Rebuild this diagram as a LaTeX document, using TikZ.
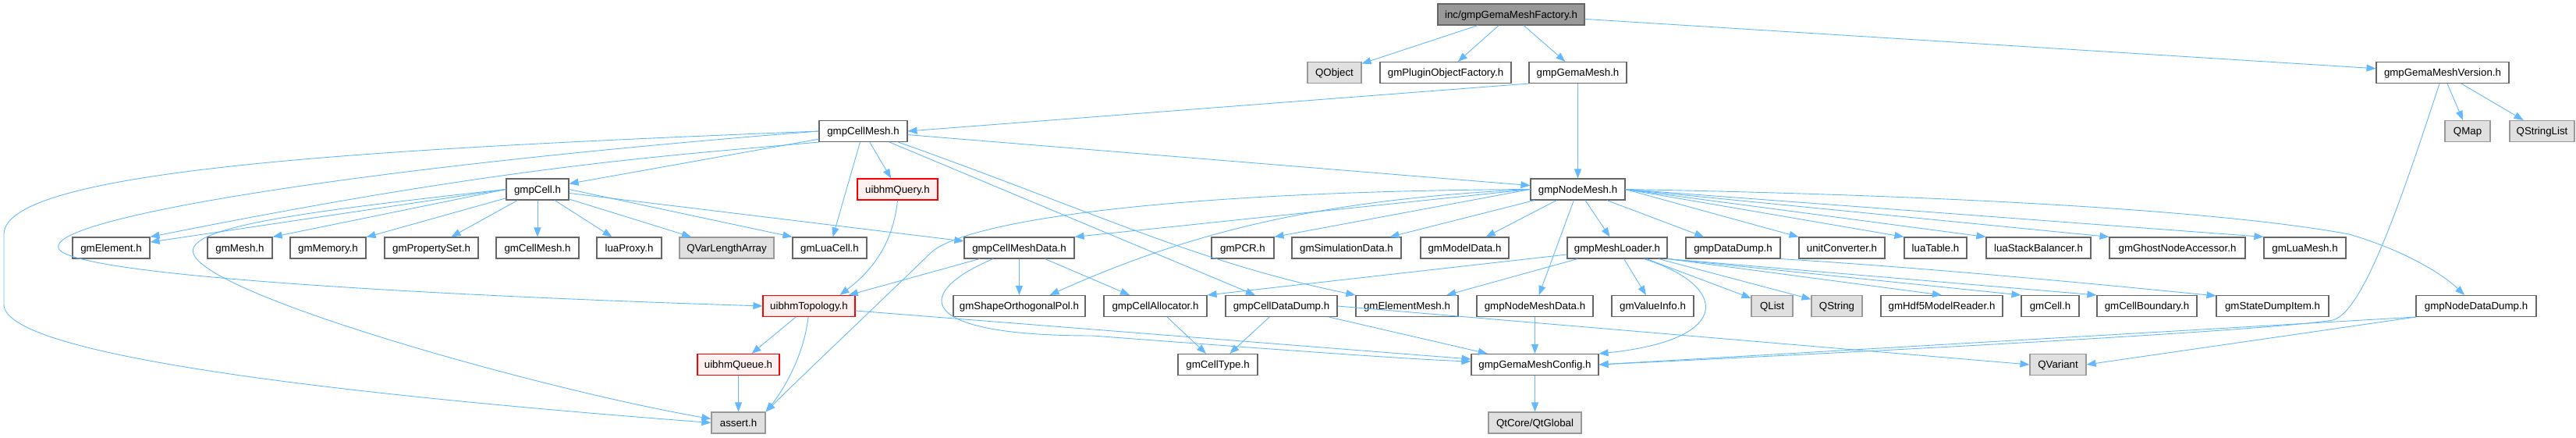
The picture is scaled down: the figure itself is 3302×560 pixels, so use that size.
\documentclass[tikz,border=0pt]{standalone}
\usepackage{fontspec}
\setmainfont{Liberation Sans}
\usetikzlibrary{arrows.meta}

\definecolor{edgeblue}{HTML}{63B8FF}
\definecolor{greyforty}{HTML}{666666}
\definecolor{greysixty}{HTML}{999999}
\definecolor{sysgrey}{HTML}{E0E0E0}
\definecolor{cutred}{HTML}{FFF0F0}

\tikzset{
  hdr/.style={draw=greyforty, fill=white, line width=1.1pt, minimum height=27pt,
    inner sep=0pt, text height=9.7pt, text depth=0pt,
    font=\fontsize{13.3}{15}\selectfont},
  syshdr/.style={hdr, draw=greysixty, fill=sysgrey},
  cuthdr/.style={hdr, draw=red, fill=cutred},
  roothdr/.style={hdr, fill=greysixty},
  dep/.style={-{Triangle[length=12pt,width=9pt]}, draw=edgeblue, line width=0.9pt}
}

\begin{document}
\begin{tikzpicture}[x=1pt,y=-1pt]
  \useasboundingbox (0,0) rectangle (3302,560);
  % draw the headers, row by row
  \node[roothdr, minimum width=188] (factory) at (1937,18.5) {inc/gmpGemaMeshFactory.h};

  \node[syshdr, minimum width=69]  (QObject)       at (1710.5,93) {QObject};
  \node[hdr,    minimum width=168] (pluginFactory) at (1853,93)   {gmPluginObjectFactory.h};
  \node[hdr,    minimum width=125] (gemaMesh)      at (2022.5,93) {gmpGemaMesh.h};
  \node[hdr,    minimum width=170] (meshVersion)   at (3131,93)   {gmpGemaMeshVersion.h};

  \node[hdr,    minimum width=113] (cellMesh)    at (1106.5,168) {gmpCellMesh.h};
  \node[syshdr, minimum width=58]  (QMap)        at (3163,168)   {QMap};
  \node[syshdr, minimum width=83]  (QStringList) at (3258.5,168) {QStringList};

  \node[hdr,    minimum width=80]  (cell)     at (689,242.5)    {gmpCell.h};
  \node[cuthdr, minimum width=103] (query)    at (1150.5,242.5) {uibhmQuery.h};
  \node[hdr,    minimum width=121] (nodeMesh) at (2022.5,242.5) {gmpNodeMesh.h};

  \node[hdr,    minimum width=99]  (gmElement)    at (142.5,317.5)  {gmElement.h};
  \node[hdr,    minimum width=83]  (gmMesh)       at (307.5,317.5)  {gmMesh.h};
  \node[hdr,    minimum width=97]  (gmMemory)     at (420.5,317.5)  {gmMemory.h};
  \node[hdr,    minimum width=120] (propertySet)  at (553,317.5)    {gmPropertySet.h};
  \node[hdr,    minimum width=106] (gmCellMesh)   at (689,317.5)    {gmCellMesh.h};
  \node[hdr,    minimum width=83]  (luaProxy)     at (806.5,317.5)  {luaProxy.h};
  \node[syshdr, minimum width=121] (varArray)     at (931.5,317.5)  {QVarLengthArray};
  \node[hdr,    minimum width=95]  (luaCell)      at (1063.5,317.5) {gmLuaCell.h};
  \node[hdr,    minimum width=141] (cellMeshData) at (1306.5,317.5) {gmpCellMeshData.h};
  \node[hdr,    minimum width=80]  (gmPCR)        at (1593,317.5)   {gmPCR.h};
  \node[hdr,    minimum width=140] (simData)      at (1726,317.5)   {gmSimulationData.h};
  \node[hdr,    minimum width=113] (modelData)    at (1877.5,317.5) {gmModelData.h};
  \node[hdr,    minimum width=128] (meshLoader)   at (2073,317.5)   {gmpMeshLoader.h};
  \node[hdr,    minimum width=121] (dataDump)     at (2221.5,317.5) {gmpDataDump.h};
  \node[hdr,    minimum width=110] (unitConv)     at (2361,317.5)   {unitConverter.h};
  \node[hdr,    minimum width=80]  (luaTable)     at (2481,317.5)   {luaTable.h};
  \node[hdr,    minimum width=134] (stackBal)     at (2613,317.5)   {luaStackBalancer.h};
  \node[hdr,    minimum width=174] (ghostNode)    at (2791,317.5)   {gmGhostNodeAccessor.h};
  \node[hdr,    minimum width=105] (luaMesh)      at (2954.5,317.5) {gmLuaMesh.h};

  \node[cuthdr, minimum width=118] (topology)     at (1037,392)   {uibhmTopology.h};
  \node[hdr,    minimum width=169] (shapePol)     at (1306.5,392) {gmShapeOrthogonalPol.h};
  \node[hdr,    minimum width=132] (cellAlloc)    at (1481,392)   {gmpCellAllocator.h};
  \node[hdr,    minimum width=143] (cellDataDump) at (1642.5,392) {gmpCellDataDump.h};
  \node[hdr,    minimum width=131] (elementMesh)  at (1803.5,392) {gmElementMesh.h};
  \node[hdr,    minimum width=149] (nodeMeshData) at (1967.5,392) {gmpNodeMeshData.h};
  \node[hdr,    minimum width=105] (valueInfo)    at (2118.5,392) {gmValueInfo.h};
  \node[syshdr, minimum width=53]  (QList)        at (2271.5,392) {QList};
  \node[syshdr, minimum width=65]  (QString)      at (2354.5,392) {QString};
  \node[hdr,    minimum width=156] (hdf5Reader)   at (2489,392)   {gmHdf5ModelReader.h};
  \node[hdr,    minimum width=74]  (gmCell)       at (2628,392)   {gmCell.h};
  \node[hdr,    minimum width=128] (cellBoundary) at (2752,392)   {gmCellBoundary.h};
  \node[hdr,    minimum width=144] (stateDump)    at (2913,392)   {gmStateDumpItem.h};
  \node[hdr,    minimum width=154] (nodeDataDump) at (3174,392)   {gmpNodeDataDump.h};

  \node[cuthdr, minimum width=105] (queue)      at (946.5,467)  {uibhmQueue.h};
  \node[hdr,    minimum width=102] (cellType)   at (1561,467)   {gmCellType.h};
  \node[hdr,    minimum width=163] (meshConfig) at (1967.5,467) {gmpGemaMeshConfig.h};
  \node[syshdr, minimum width=72]  (QVariant)   at (2638,467)   {QVariant};

  \node[syshdr, minimum width=69]  (assert)   at (946.5,541.5)  {assert.h};
  \node[syshdr, minimum width=119] (QtGlobal) at (1967.5,541.5) {QtCore/QtGlobal};

  % draw the includes of the factory
  \draw[dep] (factory) -- (QObject);
  \draw[dep] (factory) -- (pluginFactory);
  \draw[dep] (factory) -- (gemaMesh);
  \draw[dep] (factory) -- (meshVersion);
  % gmpGemaMesh.h and gmpGemaMeshVersion.h
  \draw[dep] (gemaMesh.south west) -- (cellMesh.east);
  \draw[dep] (gemaMesh) -- (nodeMesh);
  \draw[dep] (meshVersion) -- (QMap);
  \draw[dep] (meshVersion) -- (QStringList);
  \draw[dep] ([xshift=-4pt]meshVersion.south) .. controls (3080,250) and (3030,400)
        .. (2990,410) .. controls (2900,425) and (2300,455) .. (meshConfig.east);
  % gmpCellMesh.h
  \draw[dep] (cellMesh) -- (cell);
  \draw[dep] (cellMesh.south west) .. controls (850,200) and (650,212) .. (gmElement.north east);
  \draw[dep] (cellMesh) -- (luaCell);
  \draw[dep] (cellMesh) -- (query);
  \draw[dep] (cellMesh) -- (nodeMesh);
  \draw[dep] (cellMesh) -- (cellDataDump);
  \draw[dep] ([xshift=45pt]cellMesh.south) .. controls (1400,270) and (1530,335)
        .. (elementMesh.north west);
  \draw[dep] (cellMesh.west) .. controls (450,215) and (60,280) .. (75,318)
        .. controls (90,355) and (600,380) .. (topology.west);
  \draw[dep] (cellMesh.west) .. controls (500,190) and (5,215) .. (5,300) -- (5,390)
        .. controls (5,460) and (500,510) .. (assert.west);
  % gmpCell.h
  \draw[dep] (cell.west) -- (gmElement);
  \draw[dep] (cell.west) -- (gmMesh.north east);
  \draw[dep] (cell) -- (gmMemory);
  \draw[dep] (cell) -- (propertySet);
  \draw[dep] (cell) -- (gmCellMesh);
  \draw[dep] (cell) -- (luaProxy);
  \draw[dep] (cell) -- (varArray);
  \draw[dep] (cell.east) -- (luaCell.north west);
  \draw[dep] (cell) -- (cellMeshData);
  \draw[dep] (cell.west) .. controls (400,270) and (235,290) .. (248,325)
        .. controls (268,380) and (700,500) .. ([yshift=5pt]assert.west);
  % uibhmQuery.h
  \draw[dep] (query.south) .. controls (1145,310) and (1120,345) .. ([xshift=-20pt]topology.north east);
  % gmpNodeMesh.h
  \draw[dep] (nodeMesh.west) .. controls (1500,245) and (1245,282) .. (1195,322)
        .. controls (1130,385) and (1040,470) .. (assert.north east);
  \draw[dep] (nodeMesh.west) -- (cellMeshData.north east);
  \draw[dep] (nodeMesh.west) .. controls (1700,255) and (1530,295) .. ([xshift=-46pt]shapePol.north east);
  \draw[dep] (nodeMesh.west) -- (gmPCR.north east);
  \draw[dep] (nodeMesh) -- (simData);
  \draw[dep] (nodeMesh) -- (modelData);
  \draw[dep] (nodeMesh) -- (meshLoader);
  \draw[dep] (nodeMesh) -- (nodeMeshData);
  \draw[dep] (nodeMesh) -- (dataDump);
  \draw[dep] (nodeMesh.east) -- (unitConv.north west);
  \draw[dep] (nodeMesh.east) -- (luaTable.north west);
  \draw[dep] (nodeMesh.east) -- (stackBal.north west);
  \draw[dep] (nodeMesh.east) -- (ghostNode.north west);
  \draw[dep] (nodeMesh.east) -- (luaMesh.north west);
  \draw[dep] (nodeMesh.east) .. controls (2500,250) and (2850,270) .. (3011,300)
        .. controls (3080,320) and (3130,350) .. ([xshift=-15pt]nodeDataDump.north);
  % gmpCellMeshData.h
  \draw[dep] (cellMeshData) -- (topology);
  \draw[dep] (cellMeshData) -- (shapePol);
  \draw[dep] (cellMeshData) -- (cellAlloc);
  \draw[dep] ([xshift=-33.5pt]cellMeshData.south) .. controls (1170,375) and (1170,430) .. (1400,430)
        .. controls (1600,445) and (1800,460) .. ([yshift=4pt]meshConfig.west);
  % gmpMeshLoader.h
  \draw[dep] ([yshift=-8.5pt]meshLoader.west) -- (cellAlloc.north east);
  \draw[dep] (meshLoader) -- (elementMesh);
  \draw[dep] (meshLoader) -- (valueInfo);
  \draw[dep] (meshLoader) -- (QList);
  \draw[dep] (meshLoader) -- (QString);
  \draw[dep] (meshLoader.south east) -- (hdf5Reader.north);
  \draw[dep] (meshLoader.south east) -- (gmCell.north west);
  \draw[dep] (meshLoader.south east) -- (cellBoundary.north west);
  \draw[dep] ([xshift=34pt]meshLoader.south) .. controls (2215,365) and (2225,435) .. (meshConfig.north east);
  % gmpDataDump.h
  \draw[dep] (dataDump.south east) .. controls (2500,345) and (2750,370) .. ([yshift=-1pt]stateDump.north west);
  % uibhmTopology.h and uibhmQueue.h
  \draw[dep] (topology) -- (queue);
  \draw[dep] ([xshift=-1pt]topology.south) .. controls (1030,460) and (1000,505) .. (assert.north east);
  \draw[dep] ([yshift=-6pt]topology.east) -- ([yshift=7pt]meshConfig.west);
  \draw[dep] (queue) -- (assert);
  % the lower headers
  \draw[dep] (cellAlloc) -- (cellType);
  \draw[dep] (cellDataDump) -- (cellType);
  \draw[dep] (cellDataDump) -- (meshConfig);
  \draw[dep] (cellDataDump.east) -- (QVariant.west);
  \draw[dep] (nodeMeshData) -- (meshConfig);
  \draw[dep] (nodeDataDump.south west) -- (meshConfig.east);
  \draw[dep] (nodeDataDump.south west) -- (QVariant.east);
  \draw[dep] (meshConfig) -- (QtGlobal);
\end{tikzpicture}
\end{document}
